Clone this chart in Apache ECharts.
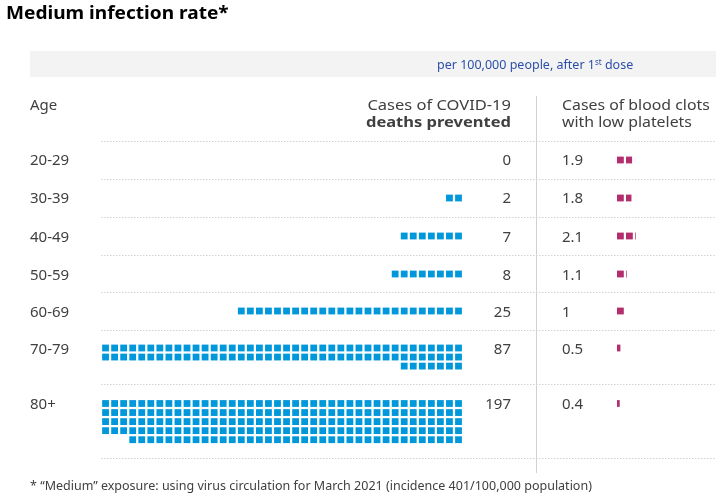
<!DOCTYPE html>
<html><head><meta charset="utf-8">
<style>html,body{margin:0;padding:0;background:#fff}#c{width:716px;height:501px}</style>
<script src="https://cdn.jsdelivr.net/npm/echarts@6/dist/echarts.min.js"></script>
</head><body><div id="c"></div>
<script>
const ageGroups = ['20-29','30-39','40-49','50-59','60-69','70-79','80+'];
const deathsPrevented = [0,2,7,8,25,87,197];
const bloodClots = [1.9,1.8,2.1,1.1,1,0.5,0.4];
const clotLabels = ['1.9','1.8','2.1','1.1','1','0.5','0.4'];

// layout (pixels, via the full-canvas value axes)
const rowCentres = [160,198,236,274,311,348,403.5];
const rowLabelYs = [161,199,238,276,313,350,405];
const separators = [141,179,217,255,292,330,384,458];
const COLS = 40, PITCH = 9.05, RIGHT = 458.5, SQ = 6.8;
const CLOT_X = 617, CLOT_PITCH = 9, CLOT_SQ = 6.8;
const BLUE = '#0098db', PINK = '#b42d6c';
const FONT = '"Noto Sans", sans-serif', INK = '#404040';

const blueCells = [];
deathsPrevented.forEach((n, r) => {
  for (let i = 0; i < n; i++) {
    const rowIdx = Math.floor(i / COLS), col = i % COLS;
    blueCells.push([RIGHT - col * PITCH, rowCentres[r] + rowIdx * PITCH]);
  }
});
const pinkCells = [];
bloodClots.forEach((v, r) => {
  for (let i = 0; i < Math.ceil(v - 1e-9); i++) {
    pinkCells.push([CLOT_X + i * CLOT_PITCH, rowCentres[r], Math.min(1, v - i)]);
  }
});
const texts = [];
ageGroups.forEach((a, r) => {
  texts.push({x: 30, y: rowLabelYs[r], t: a, al: 'left'});
  texts.push({x: 511, y: rowLabelYs[r], t: String(deathsPrevented[r]), al: 'right'});
  texts.push({x: 562, y: rowLabelYs[r], t: clotLabels[r], al: 'left'});
});

function txt(x, y, text, extra, sx) {
  return {type:'text', x, y, z: 10, scaleX: sx||1, style: Object.assign({text, font:'15px '+FONT, fill:INK, textVerticalAlign:'middle', textAlign:'left'}, extra||{})};
}
const chart = echarts.init(document.getElementById('c'), null, {renderer:'canvas'});
chart.setOption({
  animation:false,
  backgroundColor:'#fff',
  grid:{left:0,right:0,top:0,bottom:0,containLabel:false},
  xAxis:{type:'value',min:0,max:716,show:false},
  yAxis:{type:'value',min:0,max:501,inverse:true,show:false},
  graphic:[
    {type:'rect',z:0,shape:{x:30,y:51,width:686,height:26},style:{fill:'#f3f3f3'}},
    {type:'line',z:0,shape:{x1:536.5,y1:96,x2:536.5,y2:473},style:{stroke:'#d2d2d2',lineWidth:1}},
    ...separators.map(y=>({type:'line',z:0,shape:{x1:101,y1:y+.5,x2:716,y2:y+.5},style:{stroke:'#d2d2d2',lineWidth:1,lineDash:[1.5,1.5]}})),
    txt(6,14,'Medium infection rate*',{font:'bold 18px '+FONT,fill:'#000'},1.06),
    {type:'text',z:10,x:437,y:65,style:{
      rich:{b:{font:'12.5px '+FONT,fill:'#2b4fa8'},s:{font:'8px '+FONT,fill:'#2b4fa8',verticalAlign:'top',padding:[0,0,5,0]}},
      text:'{b|per 100,000 people, after 1}{s|st}{b| dose}',textVerticalAlign:'middle',textAlign:'left'}},
    txt(30,106,'Age'),
    txt(511,106,'Cases of COVID-19',{textAlign:'right'},1.1),
    txt(511,123,'deaths prevented',{textAlign:'right',font:'bold 15px '+FONT},1.1),
    txt(562,106,'Cases of blood clots',null,1.057),
    txt(562,123,'with low platelets',null,1.057),
    txt(30,486,'* “Medium” exposure: using virus circulation for March 2021 (incidence 401/100,000 population)',{font:'12.5px '+FONT})
  ],
  series:[
    {type:'custom',data:blueCells,silent:true,clip:false,renderItem:(p,api)=>{
      const c=api.coord([api.value(0),api.value(1)]);
      return {type:'rect',shape:{x:c[0]-SQ/2,y:c[1]-SQ/2,width:SQ,height:SQ},style:{fill:BLUE}};
    }},
    {type:'custom',data:pinkCells,silent:true,clip:false,renderItem:(p,api)=>{
      const c=api.coord([api.value(0),api.value(1)]);
      return {type:'rect',shape:{x:c[0],y:c[1]-CLOT_SQ/2,width:CLOT_SQ*api.value(2),height:CLOT_SQ},style:{fill:PINK}};
    }},
    {type:'custom',data:texts.map(t=>[t.x,t.y]),silent:true,clip:false,renderItem:(p,api)=>{
      const t=texts[p.dataIndex],c=api.coord([t.x,t.y]);
      return {type:'text',x:c[0],y:c[1],style:{text:t.t,font:'15px '+FONT,fill:INK,textAlign:t.al,textVerticalAlign:'middle'}};
    }}
  ]
});
</script></body></html>
